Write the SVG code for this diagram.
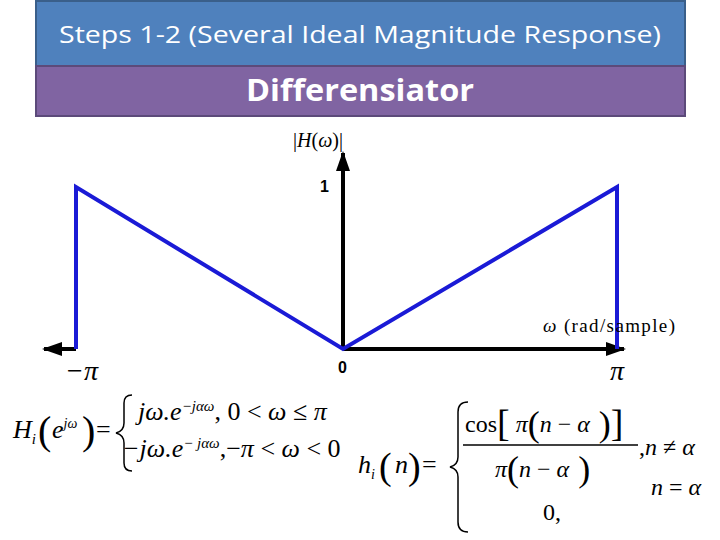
<svg xmlns="http://www.w3.org/2000/svg" width="720" height="540" viewBox="0 0 720 540">
<style>
.m{font-family:"Liberation Serif",serif;fill:#000}
.b{font-family:"Liberation Sans",sans-serif;font-weight:bold;font-size:16px}
</style>
<defs>
<marker id="ah2" markerWidth="20" markerHeight="14" refX="18" refY="7" orient="auto" markerUnits="userSpaceOnUse"><path d="M0,0 L20,7 L0,14 Z" fill="#000"/></marker>
</defs>
<g id="title"><rect x="36" y="1" width="649" height="65" fill="#4f81bd" stroke="#3a5f8a" stroke-width="2"/>
<text x="360" y="43" text-anchor="middle" font-family="Open Sans,Liberation Sans,sans-serif" font-size="24" textLength="602" lengthAdjust="spacingAndGlyphs" fill="#fff">Steps 1-2 (Several Ideal Magnitude Response)</text></g>
<g id="subtitle"><rect x="36" y="66" width="649" height="50" fill="#8064a2" stroke="#5c4a7a" stroke-width="2"/>
<text x="360" y="101" text-anchor="middle" font-family="Open Sans,Liberation Sans,sans-serif" font-weight="bold" font-size="31" textLength="228" lengthAdjust="spacingAndGlyphs" fill="#fff">Differensiator</text></g>
<g id="connectors">
<line x1="343" y1="350" x2="343" y2="153" stroke="#000" stroke-width="4" marker-end="url(#ah2)"/>
<line x1="76" y1="349" x2="44" y2="349" stroke="#000" stroke-width="4" marker-end="url(#ah2)"/>
<line x1="343" y1="349" x2="624" y2="349" stroke="#000" stroke-width="4" marker-end="url(#ah2)"/>
<polyline points="76,349 76,187 343,349 617,187 617,349" fill="none" stroke="#1a1ad6" stroke-width="4"/>
</g>
<g id="labels">
<text x="293" y="147" class="m" style="font-size:20px">|<tspan font-style="italic">H</tspan>(<tspan font-style="italic">ω</tspan>)|</text>
<text x="320" y="192" class="b">1</text>
<text x="338" y="373" class="b">0</text>
<text x="65" y="380" class="m" style="font-size:28px;font-style:italic">−π</text>
<text x="610" y="380" class="m" style="font-size:28px;font-style:italic">π</text>
<text x="543" y="332" class="m" style="font-size:19px" textLength="132"><tspan font-style="italic">ω</tspan> (rad/sample)</text>
</g>
<g id="eq1" class="m" style="font-size:26px">
<text x="13" y="438" font-style="italic">H<tspan style="font-size:15px" dy="6">i</tspan></text>
<text x="38" y="444" style="font-size:40px">(</text>
<text x="52" y="438" font-style="italic">e<tspan style="font-size:14px" dy="-10">jω</tspan></text>
<text x="82" y="444" style="font-size:40px">)</text>
<text x="96" y="438">=</text>
<path d="M132,395 q-8,0 -8,8 v20 q0,8 -8,10 q8,2 8,10 v20 q0,8 8,8" fill="none" stroke="#000" stroke-width="1.5"/>
<text x="138" y="420" font-style="italic">jω.e<tspan style="font-size:15px" dy="-9">−jαω</tspan><tspan dy="9" font-style="normal">,   0 &lt; <tspan font-style="italic">ω</tspan> ≤ <tspan font-style="italic">π</tspan></tspan></text>
<text x="122" y="457" font-style="italic">−jω.e<tspan style="font-size:15px" dy="-9">− jαω</tspan><tspan dy="9" font-style="normal">,−<tspan font-style="italic">π</tspan> &lt; <tspan font-style="italic">ω</tspan> &lt; 0</tspan></text>
</g>
<g id="eq2" class="m" style="font-size:24px">
<text x="358" y="473" style="font-size:26px;font-style:italic">h<tspan style="font-size:14px" dy="6">i</tspan></text>
<text x="379" y="479" style="font-size:38px">(</text>
<text x="395" y="473" style="font-size:26px;font-style:italic">n</text>
<text x="408" y="479" style="font-size:38px">)</text>
<text x="422" y="473" style="font-size:26px">=</text>
<path d="M468,402 q-10,0 -10,10 v45 q0,8 -8,10 q8,2 8,10 v45 q0,10 10,10" fill="none" stroke="#000" stroke-width="1.5"/>
<text x="465" y="432">cos<tspan style="font-size:38px" dy="4">[</tspan><tspan font-style="italic" dy="-4"> π</tspan><tspan style="font-size:36px" dy="4">(</tspan><tspan font-style="italic" dy="-4">n</tspan> − <tspan font-style="italic">α</tspan><tspan style="font-size:36px" dy="4"> )</tspan><tspan style="font-size:38px">]</tspan></text>
<line x1="463" y1="445" x2="638" y2="445" stroke="#000" stroke-width="1.5"/>
<text x="495" y="477"><tspan font-style="italic">π</tspan><tspan style="font-size:36px" dy="4">(</tspan><tspan font-style="italic" dy="-4">n</tspan> − <tspan font-style="italic">α</tspan><tspan style="font-size:36px" dy="4"> )</tspan></text>
<text x="639" y="455">,<tspan font-style="italic">n</tspan> ≠ <tspan font-style="italic">α</tspan></text>
<text x="651" y="495"><tspan font-style="italic">n</tspan> = <tspan font-style="italic">α</tspan></text>
<text x="543" y="520">0,</text>
</g>
</svg>
